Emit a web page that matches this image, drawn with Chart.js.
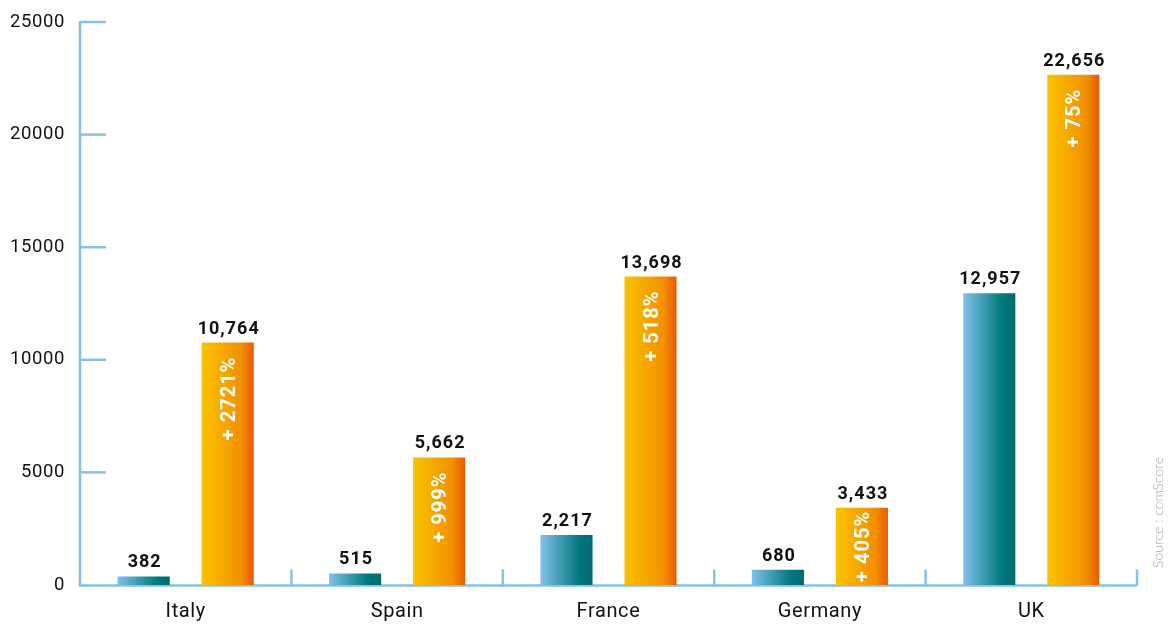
<!DOCTYPE html>
<html>
<head>
<meta charset="utf-8">
<script src="https://cdn.jsdelivr.net/npm/chart.js@4/dist/chart.umd.min.js"></script>
<style>
  html, body { margin: 0; padding: 0; background: #ffffff; }
  #wrap { position: relative; width: 1168px; height: 626px; }
</style>
</head>
<body>
<div id="wrap"><canvas id="c" width="1168" height="626"></canvas></div>
<script>
// Countries and the two yearly figures for each
const countries = ['Italy', 'Spain', 'France', 'Germany', 'UK'];
const earlierValues = [382, 515, 2217, 680, 12957];
const laterValues = [10764, 5662, 13698, 3433, 22656];
const growthLabels = ['+ 2721%', '+ 999%', '+ 518%', '+ 405%', '+ 75%'];
const yTicks = [0, 5000, 10000, 15000, 20000, 25000];
const sourceNote = 'Source : comScore';

const axisColor = '#85c1e9';
const fontFamily = 'Roboto, "DejaVu Sans", sans-serif';

function fmt(v) { return v.toLocaleString('en-US'); }

// Horizontal gradient fill for each bar, built from its drawn bounds
const barGradients = {
  id: 'barGradients',
  beforeDatasetsDraw(chart) {
    const ctx = chart.ctx;
    const stops = [
      ['#80c0ea', '#00787c', '#006a6e'],
      ['#fac300', '#f29000', '#e85a00']
    ];
    chart.data.datasets.forEach((ds, di) => {
      const meta = chart.getDatasetMeta(di);
      meta.data.forEach(el => {
        const p = el.getProps(['x', 'width'], true);
        const g = ctx.createLinearGradient(p.x - p.width / 2, 0, p.x + p.width / 2, 0);
        g.addColorStop(0, stops[di][0]);
        g.addColorStop(0.75, stops[di][1]);
        g.addColorStop(1, stops[di][2]);
        el.options = Object.assign({}, el.options, { backgroundColor: g });
      });
    });
  }
};

// Axis lines with inward tick marks
const axisLines = {
  id: 'axisLines',
  beforeDatasetsDraw(chart) {
    const ctx = chart.ctx;
    const x = chart.scales.x, y = chart.scales.y;
    const area = chart.chartArea;
    const base = y.getPixelForValue(0) + 0.5;
    ctx.save();
    ctx.strokeStyle = axisColor;
    ctx.lineWidth = 2.5;
    ctx.lineCap = 'butt';
    ctx.beginPath();
    ctx.moveTo(area.left, y.getPixelForValue(25000) - 1);
    ctx.lineTo(area.left, base);
    ctx.lineTo(area.right, base);
    ctx.stroke();
    // y tick marks pointing into the plot
    yTicks.forEach(v => {
      if (v === 0) return;
      const py = y.getPixelForValue(v);
      ctx.beginPath();
      ctx.moveTo(area.left, py);
      ctx.lineTo(area.left + 26, py);
      ctx.stroke();
    });
    // x tick marks at category boundaries, pointing up
    const half = (x.getPixelForValue(1) - x.getPixelForValue(0)) / 2;
    for (let i = 0; i < countries.length; i++) {
      const px = x.getPixelForValue(i) + half;
      ctx.beginPath();
      ctx.moveTo(px, base);
      ctx.lineTo(px, base - 16);
      ctx.stroke();
    }
    ctx.restore();
  }
};

// Value labels above bars, growth labels inside the later bars, source note
const barLabels = {
  id: 'barLabels',
  afterDatasetsDraw(chart) {
    const ctx = chart.ctx;
    ctx.save();
    ctx.letterSpacing = '1px';
    ctx.font = 'bold 18px ' + fontFamily;
    ctx.fillStyle = '#111111';
    ctx.textAlign = 'center';
    ctx.textBaseline = 'alphabetic';
    chart.data.datasets.forEach((ds, di) => {
      const meta = chart.getDatasetMeta(di);
      meta.data.forEach((el, i) => {
        const p = el.getProps(['x', 'y'], true);
        ctx.fillText(fmt(ds.data[i]), p.x + 1, p.y - 9);
      });
    });
    // growth percentages, reading upward from near the bar top
    const meta = chart.getDatasetMeta(1);
    ctx.font = 'bold 20px ' + fontFamily;
    ctx.fillStyle = '#ffffff';
    ctx.textAlign = 'right';
    ctx.textBaseline = 'middle';
    meta.data.forEach((el, i) => {
      const p = el.getProps(['x', 'y', 'base'], true);
      const len = ctx.measureText(growthLabels[i]).width;
      const room = p.base - p.y;
      const inset = Math.max(1, Math.min(14, (room - len) / 2));
      ctx.save();
      ctx.translate(p.x + 2, p.y + inset);
      ctx.rotate(-Math.PI / 2);
      ctx.fillText(growthLabels[i], 0, 0);
      ctx.restore();
    });
    // source note on the right edge
    ctx.letterSpacing = '0px';
    ctx.font = '300 14px Lato, "Open Sans", sans-serif';
    ctx.fillStyle = '#a6a6a6';
    ctx.textAlign = 'left';
    ctx.textBaseline = 'middle';
    ctx.translate(1158, 568);
    ctx.rotate(-Math.PI / 2);
    ctx.fillText(sourceNote, 0, 0);
    ctx.restore();
  }
};

const spacing = {
  id: 'spacing',
  beforeDraw(chart) { chart.ctx.letterSpacing = '0.6px'; }
};

new Chart(document.getElementById('c'), {
  type: 'bar',
  data: {
    labels: countries,
    datasets: [
      { label: 'before', data: earlierValues, backgroundColor: '#3a9aa8', borderWidth: 0 },
      { label: 'after', data: laterValues, backgroundColor: '#f29000', borderWidth: 0 }
    ]
  },
  options: {
    responsive: false,
    animation: false,
    events: [],
    categoryPercentage: 0.795,
    barPercentage: 0.62,
    layout: { padding: { left: 0, right: 31, top: 22, bottom: 0 } },
    plugins: { legend: { display: false }, tooltip: { enabled: false } },
    scales: {
      x: {
        grid: { display: false, drawTicks: false, tickLength: 0 },
        border: { display: false },
        ticks: { color: '#111111', font: { family: fontFamily, size: 20 }, padding: 15 },
        afterFit(scale) { scale.height = 41; }
      },
      y: {
        min: 0, max: 25000,
        afterBuildTicks(scale) { scale.ticks = yTicks.map(v => ({ value: v })); },
        grid: { display: false, drawTicks: false, tickLength: 0 },
        border: { display: false },
        ticks: { color: '#111111', font: { family: fontFamily, size: 18.5 }, padding: 15, callback: v => String(v) },
        afterFit(scale) { scale.width = 80; scale.paddingTop = 0; scale.paddingBottom = 0; }
      }
    }
  },
  plugins: [spacing, axisLines, barGradients, barLabels]
});
</script>
</body>
</html>
